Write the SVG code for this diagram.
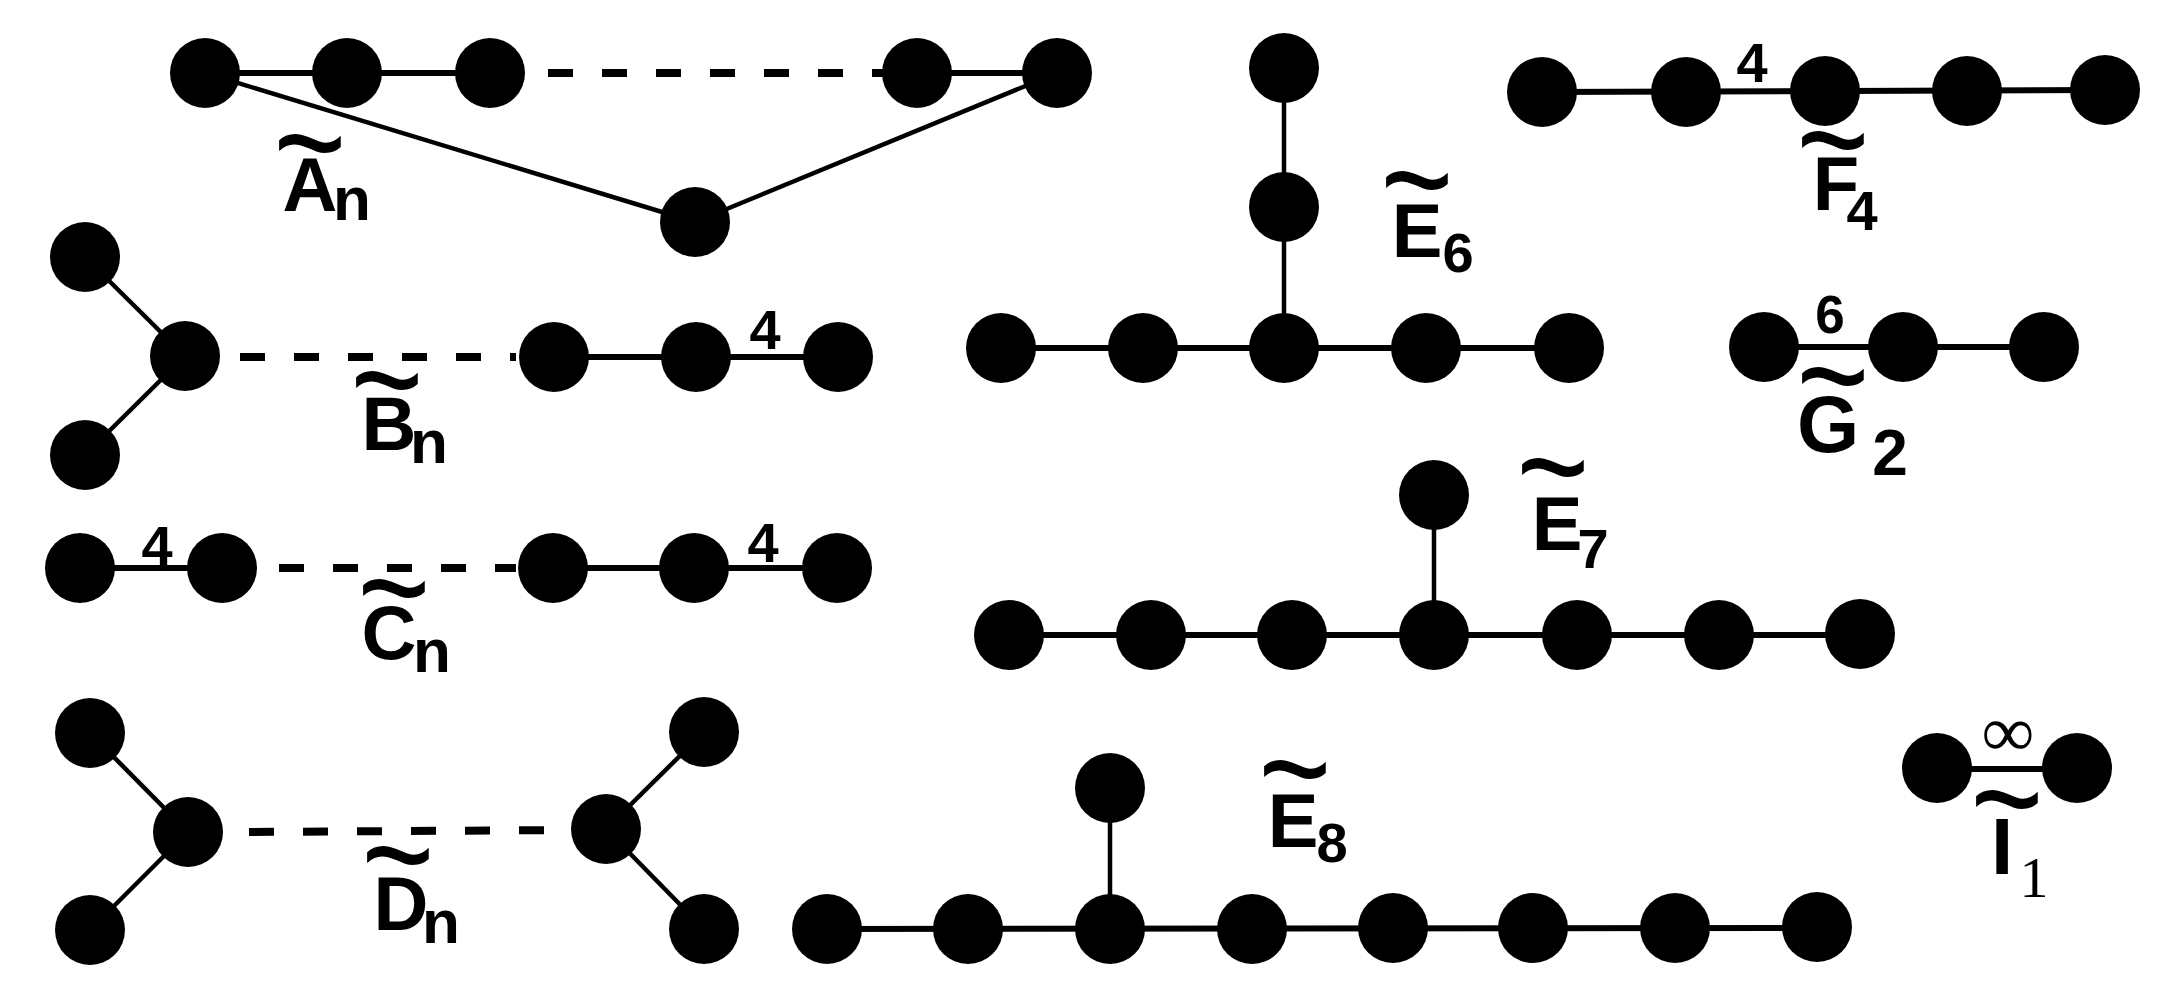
<svg xmlns="http://www.w3.org/2000/svg" width="2181" height="997" viewBox="0 0 2181 997">
<style>
.n{fill:#000}
.e{stroke:#000;stroke-width:6;fill:none}
.t{stroke:#000;stroke-width:4.5;fill:none}
.d{stroke:#000;stroke-width:8;fill:none;stroke-dasharray:25 29}
.L{font-family:"Liberation Sans",Arial,sans-serif;font-weight:bold;font-size:76px;text-anchor:middle;fill:#000}
.s{font-family:"Liberation Sans",Arial,sans-serif;font-weight:bold;font-size:62px;text-anchor:middle;fill:#000}
.w{font-family:"Liberation Sans",Arial,sans-serif;font-weight:bold;font-size:56px;text-anchor:middle;fill:#000}
.tl{font-family:"Liberation Sans",Arial,sans-serif;font-size:96px;text-anchor:middle;fill:#000}
.sf{font-family:"Liberation Serif","Times New Roman",serif;text-anchor:middle;fill:#000}
</style>
<rect width="2181" height="997" fill="#fff"/>
<g id="connectors">
<line class="e" x1="205" y1="73" x2="490" y2="73"/>
<line class="d" x1="548" y1="73" x2="883" y2="73"/>
<line class="e" x1="917" y1="73" x2="1057" y2="73"/>
<line class="t" x1="205" y1="73" x2="695" y2="222"/>
<line class="t" x1="1057" y1="73" x2="695" y2="222"/>
<line class="t" x1="85" y1="257" x2="185" y2="356"/>
<line class="t" x1="85" y1="455" x2="185" y2="356"/>
<line class="d" x1="240" y1="357" x2="516" y2="357"/>
<line class="e" x1="554" y1="357" x2="838" y2="357"/>
<line class="e" x1="80" y1="568" x2="222" y2="568"/>
<line class="d" x1="279" y1="568" x2="516" y2="568"/>
<line class="e" x1="553" y1="568" x2="837" y2="568"/>
<line class="t" x1="90" y1="733" x2="188" y2="832"/>
<line class="t" x1="90" y1="930" x2="188" y2="832"/>
<line class="d" x1="249" y1="832" x2="568" y2="830"/>
<line class="t" x1="704" y1="732" x2="606" y2="829"/>
<line class="t" x1="704" y1="929" x2="606" y2="829"/>
<line class="t" x1="1284" y1="68" x2="1284" y2="348"/>
<line class="e" x1="1001" y1="348" x2="1569" y2="348"/>
<line class="e" x1="1542" y1="92" x2="2105" y2="90"/>
<line class="e" x1="1764" y1="347" x2="2044" y2="347"/>
<line class="t" x1="1434" y1="495" x2="1434" y2="635"/>
<line class="e" x1="1009" y1="635" x2="1860" y2="635"/>
<line class="t" x1="1110" y1="788" x2="1110" y2="929"/>
<line class="e" x1="827" y1="929" x2="1817" y2="928"/>
<line class="e" x1="1937" y1="769" x2="2077" y2="769"/>
</g>
<g id="An">
<circle class="n" cx="205" cy="73" r="35"/><circle class="n" cx="347" cy="73" r="35"/><circle class="n" cx="490" cy="73" r="35"/><circle class="n" cx="917" cy="73" r="35"/><circle class="n" cx="1057" cy="73" r="35"/><circle class="n" cx="695" cy="222" r="35"/>
<text class="tl" transform="translate(310,141) scale(1.3,1.6)" y="34">~</text><text class="L" x="310" y="211">A</text><text class="s" x="352" y="220">n</text>
</g>
<g id="Bn">
<circle class="n" cx="85" cy="257" r="35"/><circle class="n" cx="85" cy="455" r="35"/><circle class="n" cx="185" cy="356" r="35"/><circle class="n" cx="554" cy="357" r="35"/><circle class="n" cx="696" cy="357" r="35"/><circle class="n" cx="838" cy="357" r="35"/>
<text class="w" x="765" y="349">4</text>
<text class="tl" transform="translate(387,378) scale(1.3,1.6)" y="34">~</text><text class="L" x="389" y="450">B</text><text class="s" x="429" y="463">n</text>
</g>
<g id="Cn">
<circle class="n" cx="80" cy="568" r="35"/><circle class="n" cx="222" cy="568" r="35"/><circle class="n" cx="553" cy="568" r="35"/><circle class="n" cx="694" cy="568" r="35"/><circle class="n" cx="837" cy="568" r="35"/>
<text class="w" x="157" y="565">4</text><text class="w" x="763" y="562">4</text>
<text class="tl" transform="translate(394,586) scale(1.3,1.6)" y="34">~</text><text class="L" x="389" y="659">C</text><text class="s" x="432" y="672">n</text>
</g>
<g id="Dn">
<circle class="n" cx="90" cy="733" r="35"/><circle class="n" cx="90" cy="930" r="35"/><circle class="n" cx="188" cy="832" r="35"/><circle class="n" cx="606" cy="829" r="35"/><circle class="n" cx="704" cy="732" r="35"/><circle class="n" cx="704" cy="929" r="35"/>
<text class="tl" transform="translate(398,853) scale(1.3,1.6)" y="34">~</text><text class="L" x="401" y="930">D</text><text class="s" x="441" y="943">n</text>
</g>
<g id="E6">
<circle class="n" cx="1284" cy="68" r="35"/><circle class="n" cx="1284" cy="207" r="35"/><circle class="n" cx="1001" cy="348" r="35"/><circle class="n" cx="1143" cy="348" r="35"/><circle class="n" cx="1284" cy="348" r="35"/><circle class="n" cx="1426" cy="348" r="35"/><circle class="n" cx="1569" cy="348" r="35"/>
<text class="tl" transform="translate(1417,178) scale(1.3,1.6)" y="34">~</text><text class="L" x="1417" y="257">E</text><text class="w" x="1458" y="272">6</text>
</g>
<g id="F4">
<circle class="n" cx="1542" cy="92" r="35"/><circle class="n" cx="1686" cy="92" r="35"/><circle class="n" cx="1825" cy="91" r="35"/><circle class="n" cx="1967" cy="91" r="35"/><circle class="n" cx="2105" cy="90" r="35"/>
<text class="w" x="1752" y="82">4</text>
<text class="tl" transform="translate(1833,138) scale(1.3,1.6)" y="34">~</text><text class="L" x="1836" y="210">F</text><text class="w" x="1862" y="230">4</text>
</g>
<g id="G2">
<circle class="n" cx="1764" cy="347" r="35"/><circle class="n" cx="1903" cy="347" r="35"/><circle class="n" cx="2044" cy="347" r="35"/>
<text class="w" x="1830" y="333" style="font-size:53px">6</text>
<text class="tl" transform="translate(1833,374) scale(1.3,1.6)" y="34">~</text><text class="L" x="1828" y="452" style="font-size:80px">G</text><text class="w" x="1890" y="475" style="font-size:64px">2</text>
</g>
<g id="E7">
<circle class="n" cx="1434" cy="495" r="35"/><circle class="n" cx="1009" cy="635" r="35"/><circle class="n" cx="1151" cy="635" r="35"/><circle class="n" cx="1292" cy="635" r="35"/><circle class="n" cx="1434" cy="635" r="35"/><circle class="n" cx="1577" cy="635" r="35"/><circle class="n" cx="1719" cy="635" r="35"/><circle class="n" cx="1860" cy="634" r="35"/>
<text class="tl" transform="translate(1553,465) scale(1.3,1.6)" y="34">~</text><text class="L" x="1557" y="550">E</text><text class="w" x="1593" y="568">7</text>
</g>
<g id="E8">
<circle class="n" cx="1110" cy="788" r="35"/><circle class="n" cx="827" cy="929" r="35"/><circle class="n" cx="968" cy="929" r="35"/><circle class="n" cx="1110" cy="929" r="35"/><circle class="n" cx="1252" cy="929" r="35"/><circle class="n" cx="1393" cy="928" r="35"/><circle class="n" cx="1533" cy="928" r="35"/><circle class="n" cx="1675" cy="928" r="35"/><circle class="n" cx="1817" cy="927" r="35"/>
<text class="tl" transform="translate(1295,767) scale(1.3,1.6)" y="34">~</text><text class="L" x="1293" y="847">E</text><text class="w" x="1332" y="862">8</text>
</g>
<g id="I1">
<circle class="n" cx="1937" cy="768" r="35"/><circle class="n" cx="2077" cy="768" r="35"/>
<text class="sf" x="2008" y="756" style="font-size:72px;font-weight:bold">∞</text>
<text class="tl" transform="translate(2007,797) scale(1.3,1.6)" y="34">~</text><text class="L" x="2002" y="874" style="font-size:80px">I</text><text class="sf" x="2034" y="897" style="font-size:58px">1</text>
</g>
</svg>
